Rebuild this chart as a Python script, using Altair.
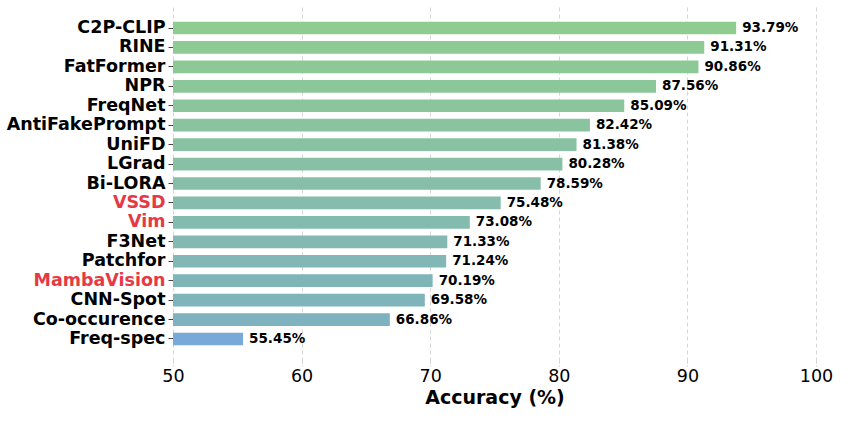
import altair as alt
import pandas as pd

methods = ["C2P-CLIP", "RINE", "FatFormer", "NPR", "FreqNet", "AntiFakePrompt", "UniFD",
           "LGrad", "Bi-LORA", "VSSD", "Vim", "F3Net", "Patchfor", "MambaVision",
           "CNN-Spot", "Co-occurence", "Freq-spec"]
accuracy = [93.79, 91.31, 90.86, 87.56, 85.09, 82.42, 81.38, 80.28, 78.59, 75.48,
            73.08, 71.33, 71.24, 70.19, 69.58, 66.86, 55.45]
bar_colors = ["#8FCC90", "#8ECA93", "#8DC996", "#8CC799", "#8AC59C", "#89C39F",
              "#88C2A2", "#87C0A5", "#86BEA9", "#85BCAC", "#84BBAF", "#83B9B2",
              "#81B7B5", "#80B5B8", "#7FB4BB", "#7EB2BE", "#77AAD8"]
highlight = ["VSSD", "Vim", "MambaVision"]
x_ticks = [50, 60, 70, 80, 90, 100]

df = pd.DataFrame({"method": methods, "acc": accuracy, "color": bar_colors})
df["label"] = [f"{v:.2f}%" for v in accuracy]

y_enc = alt.Y(
    "method:N", sort=methods, title=None,
    scale=alt.Scale(paddingInner=0.35, paddingOuter=0.807),
    axis=alt.Axis(
        labelFont="DejaVu Sans", labelFontSize=17.5, labelFontWeight="bold",
        labelColor=alt.expr("indexof(" + str(highlight) + ", datum.value) >= 0 ? '#E63946' : '#000000'"),
        labelPadding=3, tickSize=5, tickColor="#444444", tickWidth=1,
        domain=False, grid=False,
    ),
)

x_enc = alt.X(
    "acc:Q", title="Accuracy (%)",
    scale=alt.Scale(domain=[50, 100], nice=False, zero=False),
    axis=alt.Axis(
        values=x_ticks, labelFont="DejaVu Sans", labelFontSize=17.5, labelColor="#000000",
        labelFlush=False, labelOverlap=False,
        titleFont="DejaVu Sans", titleFontSize=19, titleFontWeight="bold", titleColor="#000000",
        titlePadding=4, labelPadding=1,
        grid=True, gridDash=[4, 3], gridColor="#cccccc", gridWidth=0.8,
        tickColor="#cccccc", tickSize=5, tickDash=[2, 2],
        domain=False,
    ),
)

bars = alt.Chart(df).mark_bar(clip=True).encode(
    y=y_enc,
    x=x_enc,
    x2=alt.datum(50),
    color=alt.Color("color:N", scale=None),
)

text = alt.Chart(df).mark_text(
    align="left", baseline="middle", dx=6, font="DejaVu Sans", fontSize=13.5,
    fontWeight="bold", color="#000000",
).encode(
    y=alt.Y("method:N", sort=methods),
    x=alt.X("acc:Q"),
    text="label:N",
)

chart = (bars + text).properties(
    width=643, height=355,
    autosize=alt.AutoSizeParams(type="none"),
    padding={"left": 173, "top": 6, "right": 35, "bottom": 68},
).configure_view(stroke=None)

chart.save("out.html", embed_options={"renderer": "svg", "actions": False})
